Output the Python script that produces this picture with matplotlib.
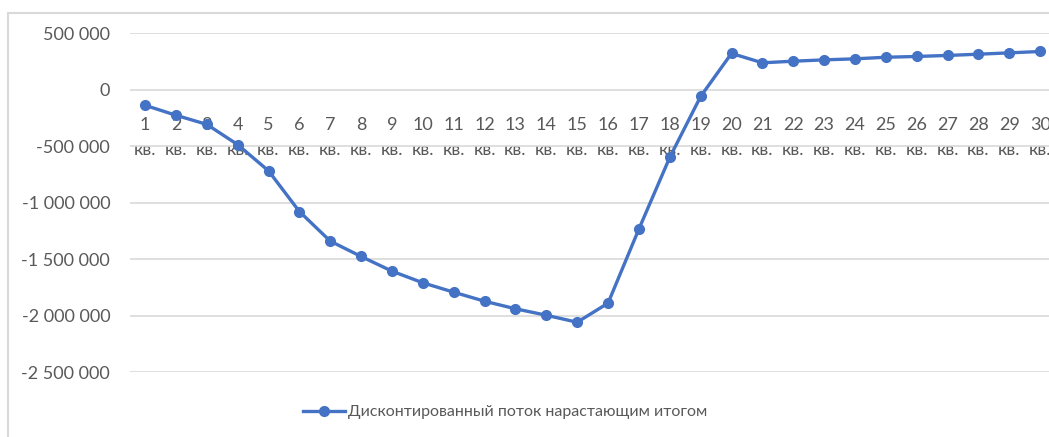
import matplotlib.pyplot as plt
from matplotlib.patches import Rectangle
from matplotlib.ticker import FuncFormatter

plt.rcParams['font.family'] = ['Lato', 'Noto Sans', 'DejaVu Sans']

# Дисконтированный поток нарастающим итогом по кварталам, руб.
quarters = list(range(1, 31))
labels = [f"{q}\nкв." for q in quarters]
cum_flow = [
    -137000, -225000, -306000, -485000, -717000,
    -1077000, -1339000, -1475000, -1605000, -1708000,
    -1791000, -1871000, -1938000, -1995000, -2057000,
    -1888000, -1232000, -598000, -59000, 322000,
    239000, 253000, 265000, 274000, 288000,
    295000, 304000, 315000, 327000, 339000,
]
series_name = "Дисконтированный поток нарастающим итогом"

W, H = 1049, 437
fig = plt.figure(figsize=(W / 100, H / 100), dpi=100)
ax = fig.add_axes([129.6 / W, 1 - 372.3 / H, 926 / W, 339 / H])

blue = "#4472C4"
grid = "#d9d9d9"
txt = "#595959"

ax.plot(quarters, cum_flow, color=blue, lw=2.4, marker="o", ms=7,
        label=series_name, zorder=3)

ax.set_xlim(0.5, 30.5)
ax.set_ylim(-2500000, 500000)
ax.set_yticks(range(-2500000, 500001, 500000))
ax.yaxis.set_major_formatter(
    FuncFormatter(lambda v, _: f"{int(v):,}".replace(",", " ")))
ax.grid(axis="y", color=grid, lw=1.2)
ax.set_axisbelow(True)

# подписи кварталов у нулевой линии
ax.set_xticks(quarters)
ax.set_xticklabels(labels)
ax.spines["bottom"].set_position(("data", 0))
for s in ax.spines.values():
    s.set_visible(False)
ax.tick_params(axis="x", length=0, pad=19.5, labelsize=13, labelcolor=txt)
ax.tick_params(axis="y", length=0, pad=14, labelsize=13, labelcolor=txt)
for lbl in ax.get_xticklabels():
    lbl.set_linespacing(1.7)

leg = fig.legend(loc="center", bbox_to_anchor=(505 / W, 1 - 412 / H),
                 frameon=False, fontsize=11.5, handlelength=2.6,
                 handletextpad=0.2, labelcolor=txt)

# рамка области диаграммы
fig.patches.append(Rectangle((8 / W, -0.1), 1.2, 0.1 + 1 - 13 / H,
                             transform=fig.transFigure, fill=False,
                             edgecolor=grid, lw=1.5))

fig.savefig("out.png", dpi=100)
